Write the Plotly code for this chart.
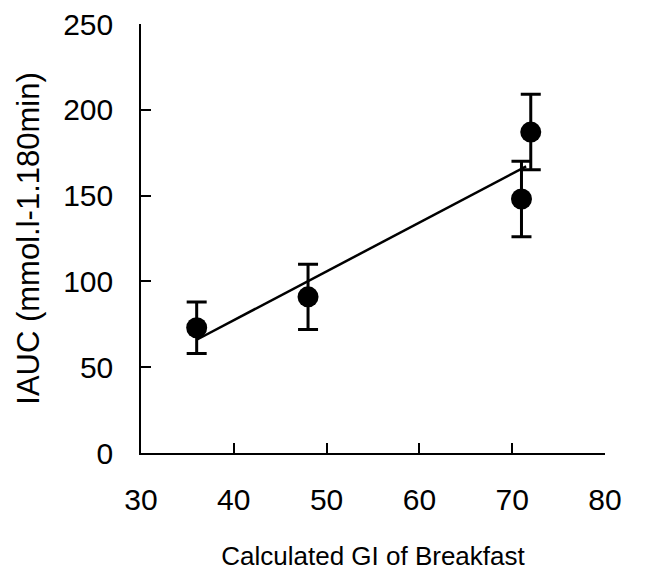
import plotly.graph_objects as go

# Breakfast glycaemic index vs. incremental area under the curve
gi_values = [36, 48, 71, 72]
iauc_means = [73, 91, 148, 187]
iauc_errors = [15, 19, 22, 22]

# Linear regression line end points
fit_x = [36, 71.5]
fit_y = [66, 167]

x_ticks = [30, 40, 50, 60, 70, 80]
y_ticks = [0, 50, 100, 150, 200, 250]

FONT = "Liberation Sans, Arial, sans-serif"

fig = go.Figure()

fig.add_trace(go.Scatter(
    x=fit_x, y=fit_y, mode="lines",
    line=dict(color="black", width=2.5),
    hoverinfo="skip", showlegend=False,
))

fig.add_trace(go.Scatter(
    x=gi_values, y=iauc_means, mode="markers",
    marker=dict(color="black", size=21),
    error_y=dict(type="data", array=iauc_errors, visible=True,
                 color="black", thickness=3, width=10),
    showlegend=False,
))

fig.update_layout(
    width=650, height=574,
    margin=dict(l=141, r=45, t=24, b=121),
    paper_bgcolor="white", plot_bgcolor="white",
    font=dict(family=FONT, color="black"),
)

fig.update_xaxes(
    range=[30, 80], tickvals=x_ticks, ticktext=[str(v) for v in x_ticks],
    showgrid=False, zeroline=False, automargin=False,
    showline=True, linecolor="black", linewidth=1.5,
    ticks="inside", ticklen=10, tickwidth=1.5, tickcolor="black",
    tickfont=dict(size=30), ticklabelstandoff=19,
    title=dict(text="Calculated GI of Breakfast", font=dict(size=26), standoff=32),
)

fig.update_yaxes(
    range=[0, 250], tickvals=y_ticks, ticktext=[str(v) for v in y_ticks],
    showgrid=False, zeroline=False, automargin=False,
    showline=True, linecolor="black", linewidth=1.5,
    ticks="inside", ticklen=10, tickwidth=1.5, tickcolor="black",
    tickfont=dict(size=30), ticklabelstandoff=20,
    title=dict(text="IAUC (mmol.l-1.180min)", font=dict(size=31), standoff=14),
)

fig.write_html("out.html")
